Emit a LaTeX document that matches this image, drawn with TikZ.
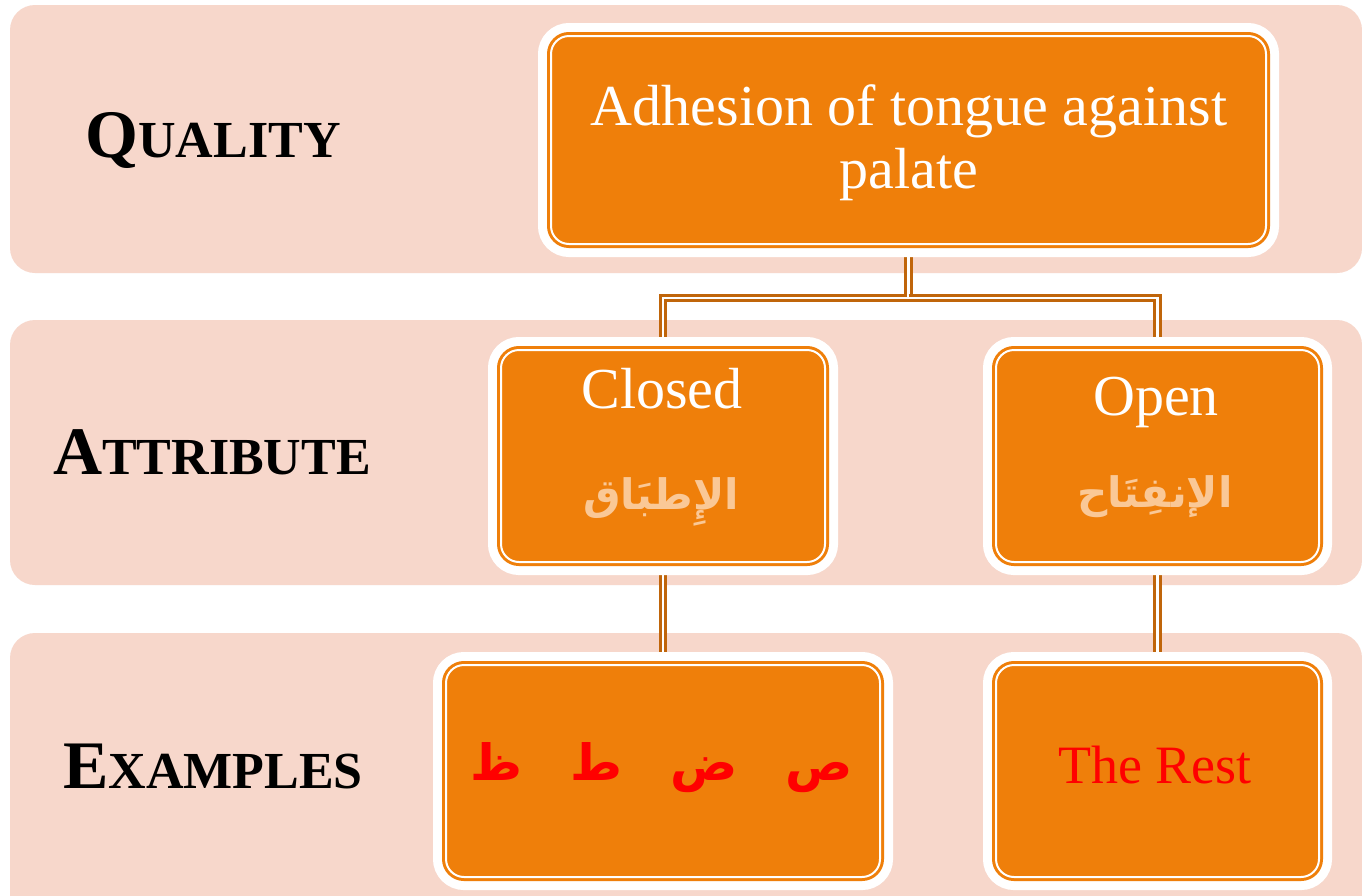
\documentclass[tikz,border=0pt]{standalone}
\usepackage{fontspec}
\setmainfont{Liberation Serif}
\newfontfamily\arabicfont[Script=Arabic]{DejaVu Sans}
\TeXXeTstate=1
\definecolor{bandcol}{HTML}{F7D7CB}
\definecolor{boxorange}{HTML}{EF7F0A}
\definecolor{conncol}{HTML}{C0650A}
\definecolor{peach}{HTML}{FAC896}
\definecolor{exred}{HTML}{FF0000}
% small caps built from two sizes of the bold serif
\newcommand{\fakesc}[2]{{\fontsize{68}{70}\selectfont #1}{\fontsize{52}{54}\selectfont #2}}
\pgfdeclarelayer{bands}
\pgfdeclarelayer{links}
\pgfsetlayers{bands,links,main}
\tikzset{
  band/.style={fill=bandcol, rounded corners=25pt},
  box/.style={rectangle, rounded corners=18pt, fill=boxorange, draw=boxorange,
    line width=3pt, double=white, double distance=2pt, inner sep=0pt,
    preaction={draw=white, line width=26pt}},
  conn/.style={draw=conncol, line width=3.2pt, double=white, double distance=2.2pt},
  rowlabel/.style={font=\bfseries, text=black, inner sep=0pt},
  wtext/.style={font=\fontsize{58}{64}\selectfont, text=white, inner sep=0pt, anchor=base},
  artext/.style={font=\arabicfont\bfseries\fontsize{42}{46}\selectfont, text=peach, inner sep=0pt, anchor=base},
}
\begin{document}
\begin{tikzpicture}[x=1pt, y=-1pt]
\useasboundingbox (0,0) rectangle (1362,895);
\clip (0,0) rectangle (1362,895);

% the three horizontal bands
\begin{pgfonlayer}{bands}
  \fill[white] (0,0) rectangle (1362,895);
  \path[band] (10,5) rectangle (1362,273);
  \path[band] (10,320) rectangle (1362,585);
  \path[band] (10,633) rectangle (1362,925);
\end{pgfonlayer}

% row labels
\node[rowlabel] (lquality) at (213,140) {\fakesc{Q}{UALITY}};
\node[rowlabel] (lattr) at (212,452) {\fakesc{A}{TTRIBUTE}};
\node[rowlabel] (lexam) at (213,766) {\fakesc{E}{XAMPLES}};

% boxes
\node[box, minimum width=715pt, minimum height=208pt] (top) at (908.5,140) {};
\node[box, minimum width=324pt, minimum height=212pt] (closed) at (663,456) {};
\node[box, minimum width=323pt, minimum height=212pt] (open) at (1157.5,456) {};
\node[box, minimum width=434pt, minimum height=212pt] (exclosed) at (663,771) {};
\node[box, minimum width=323pt, minimum height=212pt] (exopen) at (1157.5,771) {};

% box texts
\node[wtext] (t1) at (909,125) {Adhesion of tongue against};
\node[wtext] (t2) at (909,188) {palate};
\node[wtext] (tclosed) at (662,408) {Closed};
\node[artext] (aclosed) at (661,509) {\beginR الإِطبَاق\endR};
\node[wtext] (topen) at (1156,415) {Open};
\node[artext] (aopen) at (1155,507) {\beginR الإنفِتَاح\endR};
\node[inner sep=0pt, anchor=base, text=exred, font=\arabicfont\bfseries\fontsize{50}{54}\selectfont]
  (letters) at (662,780) {\beginR ص\hspace{48pt}ض\hspace{48pt}ط\hspace{48pt}ظ\endR};
\node[wtext, text=exred, font=\fontsize{54}{60}\selectfont] (trest) at (1155,783) {The Rest};

% connectors
\coordinate (split) at (908.5,298);
\begin{pgfonlayer}{links}
  \draw[conn] (top.south) -- (split) -| (closed.north);
  \draw[conn] (split) -| (open.north);
  \draw[conn] (closed.south) -- (exclosed.north);
  \draw[conn] (open.south) -- (exopen.north);
\end{pgfonlayer}
\end{tikzpicture}
\end{document}
